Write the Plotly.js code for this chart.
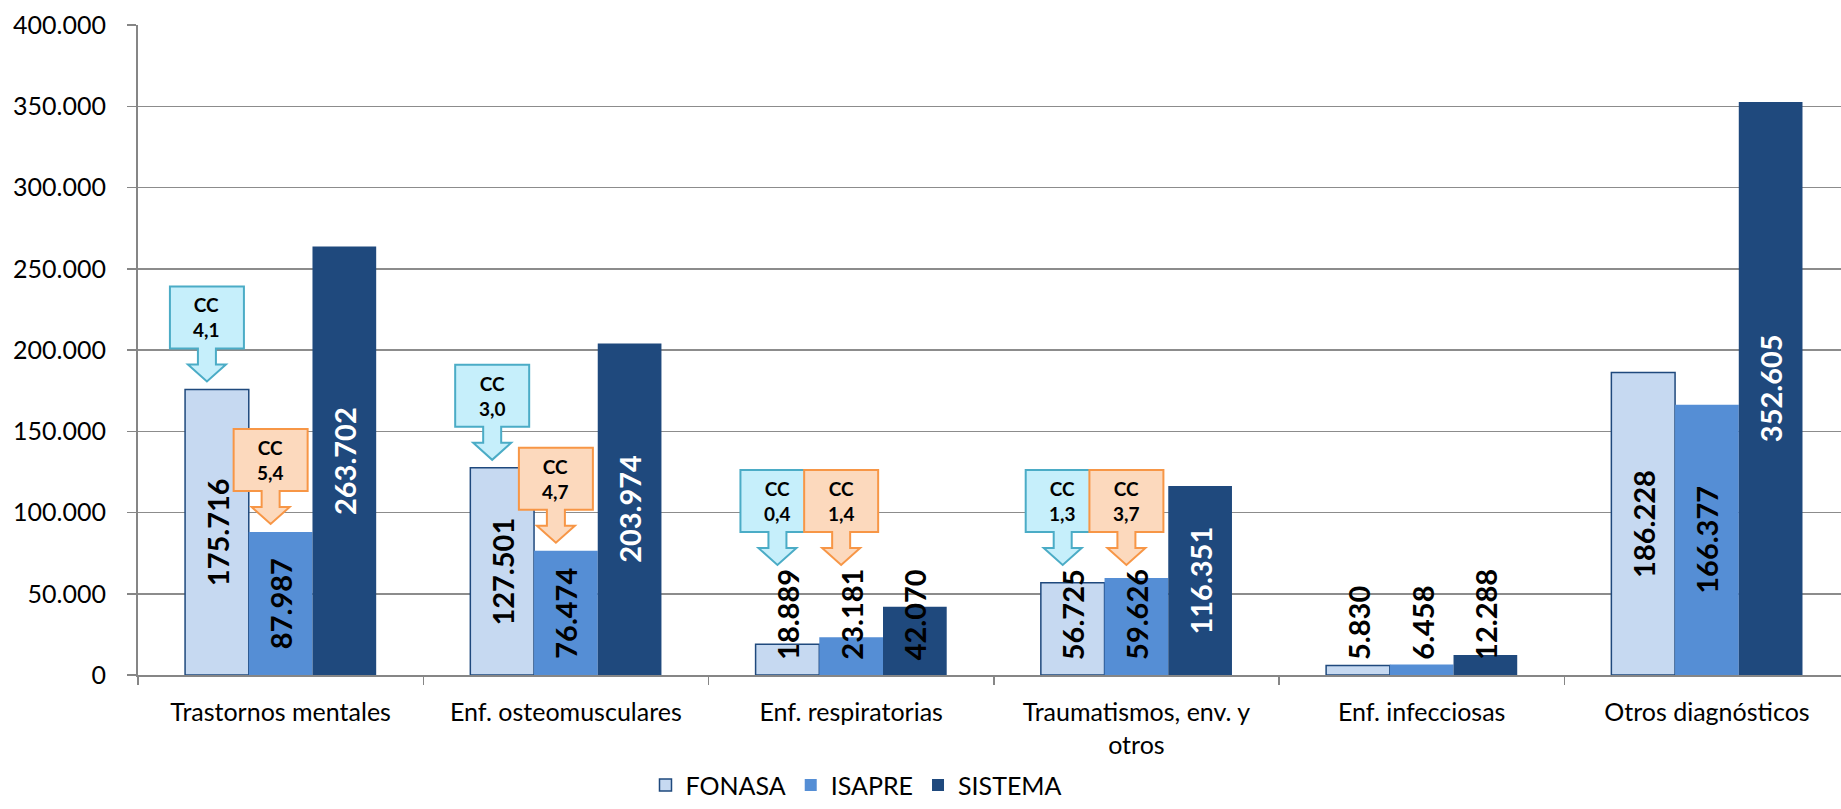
<!DOCTYPE html>
<html>
<head>
<meta charset="utf-8">
<script src="https://cdn.plot.ly/plotly-3.0.1.min.js"></script>
<style>
  html, body { margin: 0; padding: 0; background: #ffffff; overflow: hidden; }
  #chart { width: 1841px; height: 809px; }
</style>
</head>
<body>
<div id="chart"></div>
<script>
// ---- data ----
const categories = ['Trastornos mentales', 'Enf. osteomusculares', 'Enf. respiratorias',
                    'Traumatismos, env. y<br>otros', 'Enf. infecciosas', 'Otros diagnósticos'];
const seriesNames = ['FONASA', 'ISAPRE', 'SISTEMA'];
const fonasa  = [175716, 127501, 18889, 56725, 5830, 186228];
const isapre  = [87987, 76474, 23181, 59626, 6458, 166377];
const sistema = [263702, 203974, 42070, 116351, 12288, 352605];
const ccFonasa = ['4,1', '3,0', '0,4', '1,3', null, null];
const ccIsapre = ['5,4', '4,7', '1,4', '3,7', null, null];

// ---- style ----
const FONT = "Lato, 'Open Sans', sans-serif";
const colors = ['#C6D9F1', '#558ED5', '#1F497D'];
const BARGAP = 0.33;
const barW = (1 - BARGAP) / 3;
const CENTER_MIN = 70000;   // labels inside-centre when bar is tall enough, otherwise at base
const series = [fonasa, isapre, sistema];

function fmt(n) {
  return String(n).replace(/\B(?=(\d{3})+(?!\d))/g, '.');
}

const traces = series.map((vals, k) => ({
  type: 'bar',
  name: seriesNames[k],
  x: categories,
  y: vals,
  marker: {
    color: colors[k],
    line: { color: '#1F497D', width: k === 0 ? 1.5 : 0 }
  },
  hoverinfo: 'skip'
}));

const annotations = [];
const shapes = [];

// data labels
series.forEach((vals, k) => {
  vals.forEach((v, i) => {
    const centred = v >= CENTER_MIN;
    annotations.push({
      x: i + (k - 1) * barW,
      y: centred ? v / 2 : 0,
      xref: 'x', yref: 'y',
      text: fmt(v),
      showarrow: false,
      textangle: -90,
      xanchor: 'center',
      yanchor: centred ? 'middle' : 'bottom',
      yshift: centred ? 0 : 13,
      font: { family: FONT, size: 29, weight: 'bold',
              color: (k === 2 && centred) ? '#ffffff' : '#000000' }
    });
  });
});

// callouts
function calloutPath(dx, dy) {
  const p = [[-37, 95], [37, 95], [37, 33], [9, 33], [9, 17], [19, 17], [0, 0],
             [-19, 17], [-9, 17], [-9, 33], [-37, 33]];
  return 'M' + p.map(q => (q[0] + dx) + ',' + (q[1] + dy)).join(' L') + ' Z';
}
const ccSets = [
  { vals: ccFonasa, k: 0, fill: '#C6EFFB', line: '#4BACC6' },
  { vals: ccIsapre, k: 1, fill: '#FCD9BD', line: '#F79646' }
];
ccSets.forEach(set => {
  set.vals.forEach((cc, i) => {
    if (cc === null) return;
    const v = series[set.k][i];
    const centred = v >= CENTER_MIN;
    const yA = centred ? v : 0;
    const off = centred ? 8 : 110;
    const xA = i + (set.k - 1) * barW;
    shapes.push({
      type: 'path', xref: 'x', yref: 'y',
      xsizemode: 'pixel', ysizemode: 'pixel',
      xanchor: xA, yanchor: yA,
      path: calloutPath(-10, off),
      fillcolor: set.fill,
      line: { color: set.line, width: 2 },
      layer: 'above'
    });
    annotations.push({
      x: xA, y: yA, xref: 'x', yref: 'y',
      xshift: -10, yshift: off + 64,
      text: '<b>CC<br>' + cc + '</b>',
      showarrow: false,
      xanchor: 'center', yanchor: 'middle',
      font: { family: FONT, size: 19, color: '#000000' }
    });
  });
});

const layout = {
  width: 1841, height: 809,
  margin: { l: 138, r: 0, t: 25, b: 134, pad: 0, autoexpand: false },
  paper_bgcolor: '#ffffff', plot_bgcolor: '#ffffff',
  separators: ',.',
  barmode: 'group',
  bargap: BARGAP,
  bargroupgap: 0,
  font: { family: FONT, size: 25, color: '#000000' },
  showlegend: true,
  legend: {
    orientation: 'h',
    x: 0.298, xanchor: 'left',
    y: -0.205, yanchor: 'bottom',
    font: { family: FONT, size: 25, color: '#000000' },
    traceorder: 'normal',
    bgcolor: 'rgba(0,0,0,0)'
  },
  xaxis: {
    type: 'category',
    range: [-0.5, 5.47],
    showline: true, linecolor: '#868686', linewidth: 2,
    ticks: 'outside', tickson: 'boundaries', ticklen: 8, tickcolor: '#868686', tickwidth: 1.5,
    ticklabelstandoff: 14,
    showgrid: false, zeroline: false,
    tickfont: { family: FONT, size: 25, color: '#000000' }
  },
  yaxis: {
    range: [0, 400000],
    dtick: 50000,
    tickformat: ',',
    showline: true, linecolor: '#868686', linewidth: 2,
    ticks: 'outside', ticklen: 9, tickcolor: '#868686', tickwidth: 1.5,
    ticklabelstandoff: 16,
    showgrid: true, gridcolor: '#8C8C8C', gridwidth: 1.5,
    zeroline: false,
    tickfont: { family: FONT, size: 25, color: '#000000' }
  },
  annotations: annotations,
  shapes: shapes
};

Plotly.newPlot('chart', traces, layout, { displayModeBar: false, staticPlot: true });
</script>
</body>
</html>
